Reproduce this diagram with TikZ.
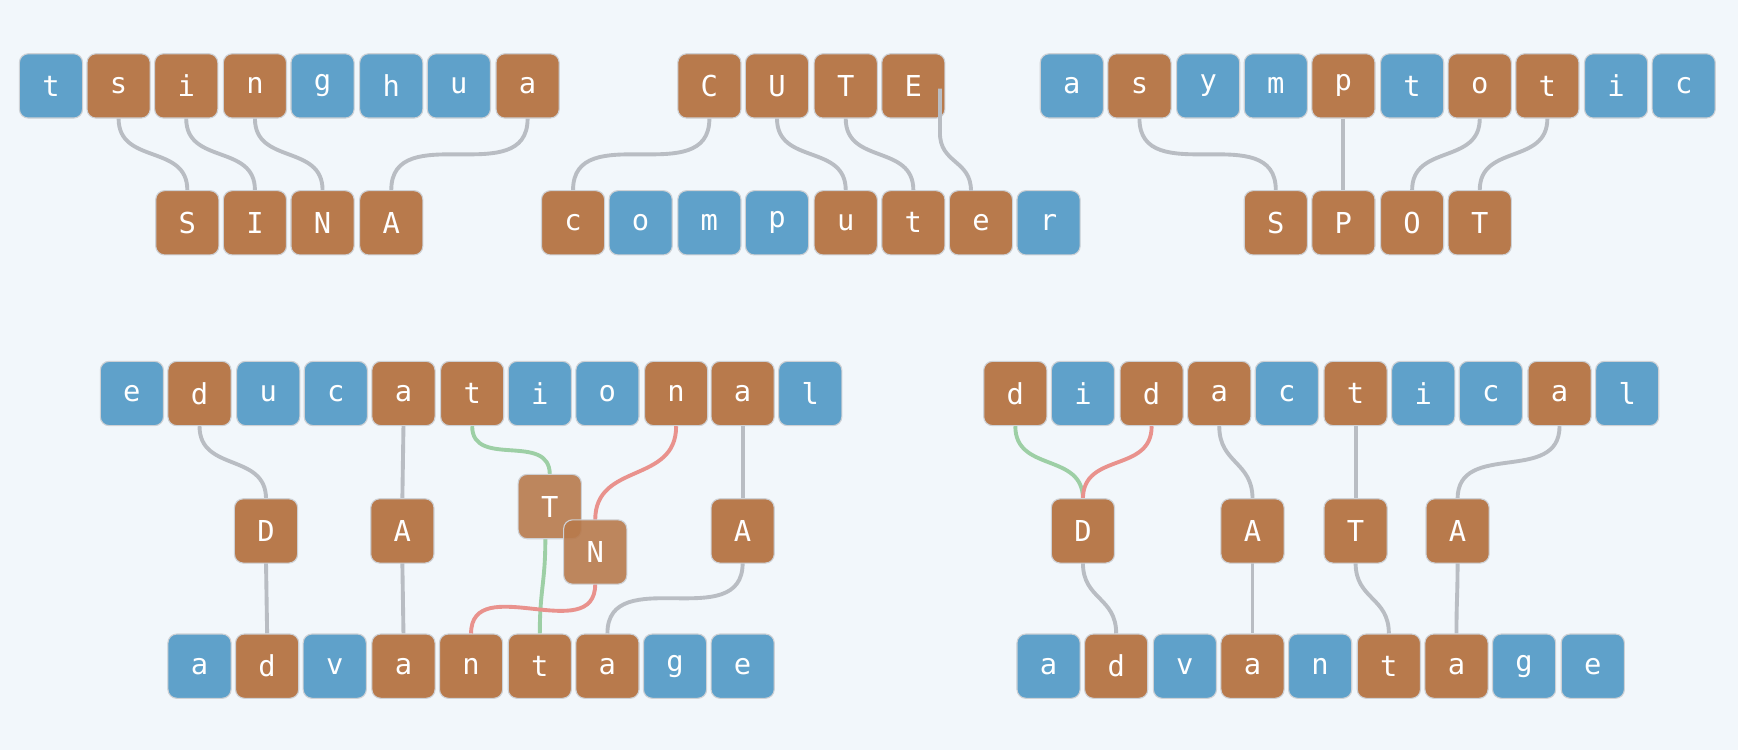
\documentclass[tikz,border=0pt]{standalone}
\usepackage{fontspec}
\setmonofont{DejaVu Sans Mono}
\definecolor{bg}{HTML}{F2F7FB}
\definecolor{bl}{HTML}{5FA1CA}
\definecolor{br}{HTML}{B87A4C}
\definecolor{ln}{HTML}{B9BDC3}
\definecolor{gr}{HTML}{9DCFA5}
\definecolor{rd}{HTML}{E9928D}
\begin{document}
\begin{tikzpicture}[x=1pt,y=-1pt,
  box/.style={draw=ln!70!white,line width=1pt,rounded corners=8pt,minimum width=57pt,minimum height=58pt,inner sep=0pt,text=white,font=\fontsize{26}{26}\selectfont\ttfamily},
  B/.style={box,fill=bl},R/.style={box,fill=br},
  c/.style={ln,line width=3.5pt},
  cg/.style={gr,line width=3.5pt},cr/.style={rd,line width=3.5pt},
  s/.style={out=-90,in=90,looseness=1.2}]
\fill[bg] (0,0) rectangle (1568,677);
% row 1
\foreach \n/\l/\x/\st in {t1/t/46/B,s1/s/107/R,i1/i/168/R,n1/n/230/R,g1/g/291/B,h1/h/353/B,u1/u/414/B,a1/a/476/R,
 C1/C/640/R,U1/U/701/R,T1/T/763/R,E1/E/824/R,
 a2/a/967/B,s2/s/1028/R,y2/y/1090/B,m2/m/1151/B,p2/p/1212/R,t2/t/1274/B,o2/o/1335/R,t3/t/1396/R,i2/i/1458/B,c2/c/1519/B}
  \node[\st] (\n) at (\x,77.5) {\l};
\foreach \n/\l/\x/\st in {S1/S/169/R,I1/I/230/R,N1/N/291/R,A1/A/353/R,
 c3/c/517/R,o3/o/578/B,m3/m/640/B,p3/p/701/B,u3/u/763/R,t4/t/824/R,e3/e/885/R,r3/r/946/B,
 S2/S/1151/R,P2/P/1212/R,O2/O/1274/R,T2/T/1335/R}
  \node[\st] (\n) at (\x,201) {\l};
% row 3
\foreach \n/\l/\x/\st in {e5/e/119/B,d5/d/180/R,u5/u/242/B,c5/c/303/B,a5/a/364/R,t5/t/426/R,i5/i/487/B,o5/o/548/B,n5/n/610/R,a6/a/670/R,l5/l/731/B,
 d7/d/916/R,i7/i/977/B,d8/d/1039/R,a7/a/1100/R,c7/c/1161/B,t7/t/1223/R,i8/i/1284/B,c8/c/1345/B,a8/a/1407/R,l7/l/1468/B}
  \node[\st] (\n) at (\x,355) {\l};
\foreach \n/\l/\x/\st in {a9/a/180/B,d9/d/241/R,v9/v/302/B,a10/a/364/R,n9/n/425/R,t9/t/487/R,a11/a/548/R,g9/g/609/B,e9/e/670/B,
 b1/a/946/B,b2/d/1007/R,b3/v/1069/B,b4/a/1130/R,b5/n/1191/B,b6/t/1253/R,b7/a/1314/R,b8/g/1375/B,b9/e/1437/B}
  \node[\st] (\n) at (\x,601) {\l};
\coordinate (eE) at (848,80);
\begin{scope}[on background layer/.style={}]
\end{scope}
% connectors (drawn before middle nodes are placed would need layers; use explicit ordering)
\draw[c] (s1.south) to[s] (S1.north);
\draw[c] (i1.south) to[s] (I1.north);
\draw[c] (n1.south) to[s] (N1.north);
\draw[c] (a1.south) to[s] (A1.north);
\draw[c] (C1.south) to[s] (c3.north);
\draw[c] (U1.south) to[s] (u3.north);
\draw[c] (T1.south) to[s] (t4.north);
\draw[c] (eE) -- (848,120) to[s] (876,172);
\draw[c] (s2.south) to[s] (S2.north);
\draw[c] (p2.south) -- (P2.north);
\draw[c] (o2.south) to[s] (O2.north);
\draw[c] (t3.south) to[s] (T2.north);
% middle row coordinates
\coordinate (Dt) at (240,450); \coordinate (Db) at (240,508);
\coordinate (At) at (363,450); \coordinate (Ab) at (363,508);
\coordinate (Tt) at (496,428); \coordinate (Tb) at (492,486);
\coordinate (Nt) at (537,469); \coordinate (Nb) at (537,527);
\coordinate (Aat) at (670,450); \coordinate (Aab) at (670,508);
\draw[c] (d5.south) to[s] (Dt);
\draw[c] (a5.south) -- (At);
\draw[cg] (t5.south) to[s] (Tt);
\draw[cr] (n5.south) to[s] (Nt);
\draw[c] (a6.south) -- (Aat);
\draw[c] (Db) -- (d9.north);
\draw[c] (Ab) -- (a10.north);
\draw[cg] (Tb) to[s] (t9.north);
\draw[cr] (Nb) to[s] (n9.north);
\draw[c] (Aab) to[s] (a11.north);
\coordinate (D2t) at (977,450); \coordinate (D2b) at (977,508);
\coordinate (A2t) at (1130,450); \coordinate (A2b) at (1130,508);
\coordinate (T2t) at (1223,450); \coordinate (T2b) at (1223,508);
\coordinate (A3t) at (1315,450); \coordinate (A3b) at (1315,508);
\draw[cg] (d7.south) to[s] (D2t);
\draw[cr] (d8.south) to[s] (D2t);
\draw[c] (a7.south) to[s] (A2t);
\draw[c] (t7.south) -- (T2t);
\draw[c] (a8.south) to[s] (A3t);
\draw[c] (D2b) to[s] (b2.north);
\draw[c] (A2b) -- (b4.north);
\draw[c] (T2b) to[s] (b6.north);
\draw[c] (A3b) to[s] (b7.north);
% middle nodes
\node[R] (D) at (240,479) {D};
\node[R] (A) at (363,479) {A};
\node[R,fill opacity=0.9,text opacity=1] (T) at (496,457) {T};
\node[R,fill opacity=0.9,text opacity=1] (N) at (537,498) {N};
\node[R] (Aa) at (670,479) {A};
\node[R] (D2) at (977,479) {D};
\node[R] (A2) at (1130,479) {A};
\node[R] (T3) at (1223,479) {T};
\node[R] (A3) at (1315,479) {A};
\end{tikzpicture}
\end{document}
